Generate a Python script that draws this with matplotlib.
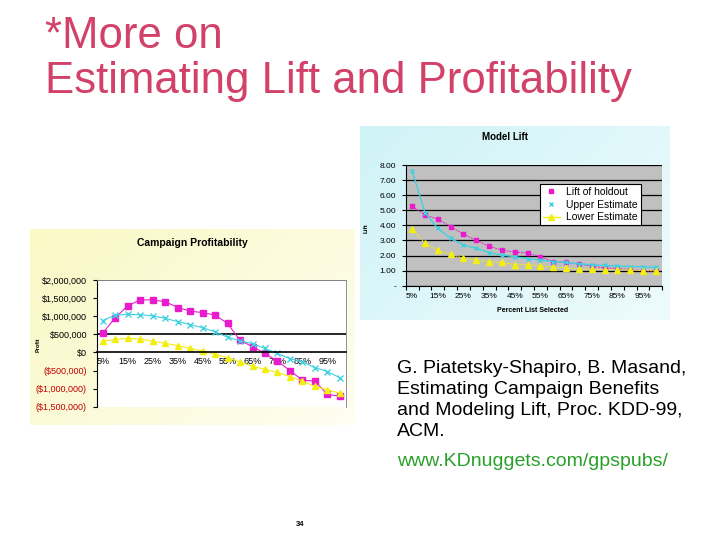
import numpy as np
import matplotlib.pyplot as plt
from matplotlib.lines import Line2D
from matplotlib.patches import Rectangle
from matplotlib.colors import LinearSegmentedColormap

# percent of list selected (categories)
PCT = [5, 10, 15, 20, 25, 30, 35, 40, 45, 50, 55, 60, 65, 70, 75, 80, 85, 90, 95, 100]
PCT_LABELS = ['5%', '15%', '25%', '35%', '45%', '55%', '65%', '75%', '85%', '95%']

# Campaign profitability (dollars)
PROFIT_ACTUAL = [541000, 963000, 1290000, 1450000, 1450000, 1400000, 1240000, 1140000, 1100000, 1030000,
                 800000, 330000, 160000, -30000, -240000, -500000, -770000, -790000, -1160000, -1210000]
PROFIT_UPPER = [880000, 1030000, 1050000, 1040000, 1010000, 940000, 850000, 770000, 680000, 570000,
                420000, 320000, 240000, 110000, -30000, -170000, -260000, -420000, -530000, -700000]
PROFIT_LOWER = [310000, 360000, 390000, 370000, 310000, 250000, 190000, 110000, 40000, -50000,
                -150000, -260000, -380000, -470000, -550000, -670000, -790000, -940000, -1030000, -1130000]
PROFIT_TICKS = [2000000, 1500000, 1000000, 500000, 0, -500000, -1000000, -1500000]
PROFIT_TICK_LABELS = ['$2,000,000', '$1,500,000', '$1,000,000', '$500,000', '$0',
                      '($500,000)', '($1,000,000)', '($1,500,000)']

# Model lift
LIFT_HOLDOUT = [5.26, 4.70, 4.41, 3.92, 3.41, 3.01, 2.61, 2.36, 2.23, 2.16,
                1.92, 1.60, 1.54, 1.45, 1.29, 1.18, 1.14, 1.07, 1.00, 1.00]
LIFT_UPPER = [7.60, 4.85, 3.80, 3.14, 2.70, 2.47, 2.20, 2.03, 1.92, 1.80,
              1.70, 1.60, 1.54, 1.45, 1.38, 1.34, 1.29, 1.27, 1.25, 1.22]
LIFT_LOWER = [3.76, 2.81, 2.34, 2.07, 1.83, 1.71, 1.60, 1.54, 1.40, 1.40,
              1.31, 1.22, 1.18, 1.11, 1.09, 1.07, 1.05, 1.05, 1.00, 0.98]
LIFT_TICKS = [0, 1, 2, 3, 4, 5, 6, 7, 8]
LIFT_TICK_LABELS = ['-', '1.00', '2.00', '3.00', '4.00', '5.00', '6.00', '7.00', '8.00']

MAGENTA = '#e81ccc'
CYAN = '#40d0e0'
YELLOW = '#f2ee10'
TITLE_RED = '#d2416a'
W, H = 720, 540

plt.rcParams['font.family'] = ['Liberation Sans', 'DejaVu Sans']


def box(x0, y0, x1, y1):
    return [x0 / W, 1 - y1 / H, (x1 - x0) / W, (y1 - y0) / H]


def gradient_background(fig, rect, c0, c1):
    ax = fig.add_axes(box(*rect))
    cmap = LinearSegmentedColormap.from_list('g', [c0, c1])
    xx, yy = np.meshgrid(np.linspace(0, 1, 64), np.linspace(0, 1, 64))
    ax.imshow(0.6 * xx + 0.4 * (1 - yy), cmap=cmap, aspect='auto', extent=(0, 1, 0, 1), origin='lower')
    ax.axis('off')
    return ax


fig = plt.figure(figsize=(7.2, 5.4), dpi=100)

# slide title
fig.text(45 / W, 1 - 48 / H, '*More on', fontsize=31.5, color=TITLE_RED, va='baseline')
fig.text(45 / W, 1 - 93 / H, 'Estimating Lift and Profitability', fontsize=31.5, color=TITLE_RED, va='baseline')

# ---- Campaign profitability chart ----
gradient_background(fig, (30, 229, 355, 425), '#faf8c4', '#fefef2')
ax1 = fig.add_axes(box(96.7, 280, 346, 406.7))
ax1.set_facecolor('white')
ax1.plot(PCT, PROFIT_ACTUAL, color=MAGENTA, marker='s', markersize=5, linewidth=0.8)
ax1.plot(PCT, PROFIT_UPPER, color=CYAN, marker='x', markersize=4, linewidth=0.8)
ax1.plot(PCT, PROFIT_LOWER, color=YELLOW, marker='^', markersize=5, linewidth=0.8)
ax1.axhline(500000, color='black', linewidth=1.2, zorder=1)
ax1.set_xlim(2.5, 102.5)
ax1.set_ylim(-1500000, 2000000)
for s in ['top', 'right']:
    ax1.spines[s].set_color('#808080')
    ax1.spines[s].set_linewidth(0.6)
ax1.spines['left'].set_color('black')
ax1.spines['bottom'].set_position(('data', 0))
ax1.spines['bottom'].set_linewidth(1.2)
ax1.add_patch(Rectangle((0, 0), 1, 1, transform=ax1.transAxes, fill=False,
                        edgecolor='#808080', linewidth=0.6))
ax1.set_yticks(PROFIT_TICKS)
ax1.set_yticklabels(PROFIT_TICK_LABELS, fontsize=6.5)
for lbl, v in zip(ax1.get_yticklabels(), PROFIT_TICKS):
    lbl.set_color('#c00000' if v < 0 else 'black')
ax1.set_xticks(PCT[::2])
ax1.set_xticklabels(PCT_LABELS, fontsize=6.5)
ax1.tick_params(axis='x', length=0, pad=3)
ax1.tick_params(axis='y', length=3, width=0.8, pad=4)
fig.text(192 / W, 1 - 243 / H, 'Campaign Profitability', fontsize=7.5, fontweight='bold',
         ha='center', va='center')
fig.text(38 / W, 1 - 345 / H, 'Profit', fontsize=4, fontweight='bold', rotation=90,
         ha='center', va='center')

# ---- Model lift chart ----
gradient_background(fig, (360, 126, 670, 320), '#cff3f7', '#eefbfc')
ax2 = fig.add_axes(box(405.7, 165, 662.3, 285.7))
ax2.set_facecolor('#c0c0c0')
ax2.set_axisbelow(True)
ax2.grid(axis='y', color='black', linewidth=0.9)
ax2.plot(PCT, LIFT_HOLDOUT, color=MAGENTA, marker='s', markersize=3.5, linewidth=0.7, linestyle=(0, (2, 1)))
ax2.plot(PCT, LIFT_UPPER, color=CYAN, marker='x', markersize=2.5, linewidth=1.0)
ax2.plot(PCT, LIFT_LOWER, color=YELLOW, marker='^', markersize=4, linewidth=0.7, linestyle=(0, (2, 1)))
ax2.set_xlim(2.5, 102.5)
ax2.set_ylim(0, 8)
for s in ['top', 'right']:
    ax2.spines[s].set_visible(False)
ax2.set_yticks(LIFT_TICKS)
ax2.set_yticklabels(LIFT_TICK_LABELS, fontsize=6)
ax2.set_xticks(PCT[::2])
ax2.set_xticklabels(PCT_LABELS, fontsize=6)
ax2.set_xticks([p - 2.5 for p in PCT] + [102.5], minor=True)
ax2.tick_params(axis='x', which='major', length=0, pad=5)
ax2.tick_params(axis='x', which='minor', length=3, width=0.8)
ax2.tick_params(axis='y', length=3, width=0.8, pad=4)
fig.text(505 / W, 1 - 137 / H, 'Model Lift', fontsize=7, fontweight='bold', ha='center', va='center')
fig.text(533 / W, 1 - 311 / H, 'Percent List Selected', fontsize=5, fontweight='bold',
         ha='center', va='center')
fig.text(366 / W, 1 - 228 / H, 'Lift', fontsize=4.5, fontweight='bold', rotation=90,
         ha='center', va='center')
handles = [Line2D([], [], color=MAGENTA, marker='s', markersize=3.5, linestyle='none'),
           Line2D([], [], color=CYAN, marker='x', markersize=2.5, linestyle='none'),
           Line2D([], [], color=YELLOW, marker='^', markersize=4, linewidth=1.0)]
leg = ax2.legend(handles, ['Lift of holdout', 'Upper Estimate', 'Lower Estimate'],
                 loc='upper left', bbox_to_anchor=(540 / W, 1 - 184 / H), bbox_transform=fig.transFigure,
                 fontsize=7.5, frameon=True, fancybox=False, framealpha=1, edgecolor='black',
                 borderpad=0.3, labelspacing=0.25, handlelength=1.6, handletextpad=0.6, borderaxespad=0)
leg.get_frame().set_linewidth(0.8)

# ---- citation ----
cite = ['G. Piatetsky-Shapiro, B. Masand,', 'Estimating Campaign Benefits',
        'and Modeling Lift, Proc. KDD-99,', 'ACM.']
for i, line in enumerate(cite):
    fig.text(397 / W, 1 - (373 + 21 * i) / H, line, fontsize=14, va='baseline')
fig.text(397 / W, 1 - 466 / H, 'www.KDnuggets.com/gpspubs/', fontsize=14, color='#2aa02a', va='baseline')

fig.text(300 / W, 1 - 525 / H, '34', fontsize=5.5, fontweight='bold', ha='center', va='center')

fig.savefig('out.png', dpi=100)
